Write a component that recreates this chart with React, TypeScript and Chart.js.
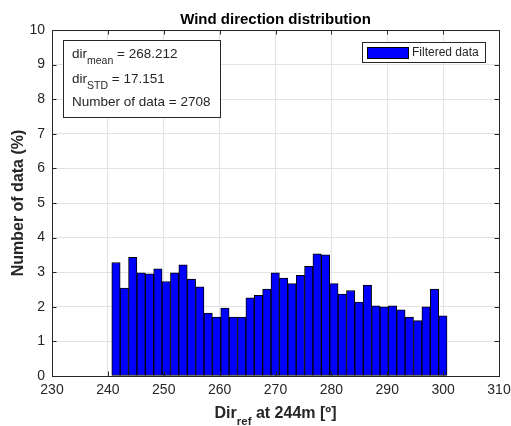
import React, { useEffect, useRef } from "react";
import { Chart, registerables } from "chart.js";

Chart.register(...registerables);

// Bin centres (deg) and percentage of data in each bin
const binCenters = [
  241.45, 242.95, 244.45, 245.95, 247.45, 248.95, 250.45, 251.95, 253.45, 254.95,
  256.45, 257.95, 259.45, 260.95, 262.45, 263.95, 265.45, 266.95, 268.45, 269.95,
  271.45, 272.95, 274.45, 275.95, 277.45, 278.95, 280.45, 281.95, 283.45, 284.95,
  286.45, 287.95, 289.45, 290.95, 292.45, 293.95, 295.45, 296.95, 298.45, 299.95,
];
const percentages = [
  3.28, 2.54, 3.43, 2.98, 2.95, 3.10, 2.73, 2.98, 3.21, 2.80,
  2.58, 1.82, 1.70, 1.96, 1.70, 1.70, 2.26, 2.33, 2.51, 2.98,
  2.83, 2.67, 2.91, 3.17, 3.53, 3.50, 2.67, 2.37, 2.47, 2.14,
  2.63, 2.03, 2.00, 2.03, 1.91, 1.70, 1.60, 2.00, 2.51, 1.74,
];
const xTicks = [230, 240, 250, 260, 270, 280, 290, 300, 310];
const yTicks = [0, 1, 2, 3, 4, 5, 6, 7, 8, 9, 10];

const titleText = "Wind direction distribution";
const legendLabel = "Filtered data";
const statLines = [
  [{ t: "dir" }, { t: "mean", sub: true }, { t: " = 268.212" }],
  [{ t: "dir" }, { t: "STD", sub: true }, { t: " = 17.151" }],
  [{ t: "Number of data = 2708" }],
];
const xTitleParts = [{ t: "Dir" }, { t: "ref", sub: true }, { t: " at 244m [º]" }];
const yTitleText = "Number of data (%)";

const FONT = "'Liberation Sans', Arial, Helvetica, sans-serif";
const AX = "#262626";

type Part = { t: string; sub?: boolean };

function drawParts(
  ctx: CanvasRenderingContext2D,
  parts: Part[],
  x: number,
  y: number,
  size: number,
  subSize: number,
  weight: string,
  align: "left" | "center"
) {
  const mainFont = `${weight} ${size}px ${FONT}`;
  const subFont = `${weight} ${subSize}px ${FONT}`;
  let total = 0;
  const widths = parts.map((p) => {
    ctx.font = p.sub ? subFont : mainFont;
    const w = ctx.measureText(p.t).width;
    total += w;
    return w;
  });
  let cx = align === "center" ? x - total / 2 : x;
  ctx.textAlign = "left";
  ctx.textBaseline = "alphabetic";
  parts.forEach((p, i) => {
    ctx.font = p.sub ? subFont : mainFont;
    ctx.fillText(p.t, cx, p.sub ? y + size * 0.45 : y);
    cx += widths[i];
  });
}

const decorPlugin = {
  id: "decor",
  afterDatasetsDraw(chart: any) {
    const ctx = chart.ctx as CanvasRenderingContext2D;
    const { left, right, top, bottom } = chart.chartArea;
    const xs = chart.scales.x;
    const ys = chart.scales.y;
    ctx.save();
    ctx.strokeStyle = AX;
    ctx.lineWidth = 1;
    // inward ticks
    ctx.beginPath();
    xTicks.forEach((v) => {
      const px = Math.round(xs.getPixelForValue(v)) + 0.5;
      ctx.moveTo(px, bottom);
      ctx.lineTo(px, bottom - 4.5);
      ctx.moveTo(px, top);
      ctx.lineTo(px, top + 4.5);
    });
    yTicks.forEach((v) => {
      const py = Math.round(ys.getPixelForValue(v)) + 0.5;
      ctx.moveTo(left, py);
      ctx.lineTo(left + 4.5, py);
      ctx.moveTo(right, py);
      ctx.lineTo(right - 4.5, py);
    });
    ctx.stroke();
    // box
    ctx.strokeRect(Math.round(left) + 0.5, Math.round(top) + 0.5, Math.round(right - left), Math.round(bottom - top));
    ctx.restore();
  },
  afterDraw(chart: any) {
    const ctx = chart.ctx as CanvasRenderingContext2D;
    const { left, right, top, bottom } = chart.chartArea;
    const cx = (left + right) / 2;
    ctx.save();
    ctx.fillStyle = "#000000";
    // title
    ctx.font = `bold 15px ${FONT}`;
    ctx.textAlign = "center";
    ctx.textBaseline = "alphabetic";
    ctx.fillText(titleText, cx, 24);
    // x title
    ctx.fillStyle = AX;
    drawParts(ctx, xTitleParts, cx, 418, 16, 11.5, "bold", "center");
    // y title
    ctx.save();
    ctx.translate(19, (top + bottom) / 2);
    ctx.rotate(-Math.PI / 2);
    ctx.font = `bold 16px ${FONT}`;
    ctx.textAlign = "center";
    ctx.textBaseline = "middle";
    ctx.fillText(yTitleText, 0, 0);
    ctx.restore();

    // stats text box
    ctx.fillStyle = "#ffffff";
    ctx.fillRect(63.5, 40.5, 157, 77);
    ctx.strokeStyle = AX;
    ctx.lineWidth = 1;
    ctx.strokeRect(63.5, 40.5, 157, 77);
    ctx.fillStyle = AX;
    const baselines = [58, 83, 106];
    statLines.forEach((ln, i) => drawParts(ctx, ln, 72, baselines[i], 13.5, 10.5, "normal", "left"));

    // legend
    ctx.fillStyle = "#ffffff";
    ctx.fillRect(362.5, 42.5, 123, 20);
    ctx.strokeStyle = AX;
    ctx.strokeRect(362.5, 42.5, 123, 20);
    ctx.fillStyle = "#0000ff";
    ctx.fillRect(367.5, 47.5, 41, 11);
    ctx.strokeStyle = "#000000";
    ctx.strokeRect(367.5, 47.5, 41, 11);
    ctx.fillStyle = AX;
    ctx.font = `normal 12px ${FONT}`;
    ctx.textAlign = "left";
    ctx.textBaseline = "middle";
    ctx.fillText(legendLabel, 412, 53);
    ctx.restore();
  },
};

export default function App() {
  const ref = useRef<HTMLCanvasElement | null>(null);
  useEffect(() => {
    if (!ref.current) return;
    const chart = new Chart(ref.current, {
      type: "bar",
      data: {
        datasets: [
          {
            label: legendLabel,
            data: binCenters.map((x, i) => ({ x, y: percentages[i] })),
            backgroundColor: "#0000ff",
            borderColor: "#000000",
            borderWidth: 1,
            borderSkipped: false,
            barPercentage: 1,
            categoryPercentage: 1,
          },
        ],
      },
      options: {
        responsive: false,
        animation: false,
        events: [],
        layout: { padding: { left: 7, right: 12, top: 30, bottom: 0 } },
        plugins: { legend: { display: false }, title: { display: false }, tooltip: { enabled: false } },
        scales: {
          x: {
            type: "linear",
            min: 230,
            max: 310,
            offset: false,
            afterFit: (s: any) => {
              s.height = 50;
              s.paddingLeft = 0;
              s.paddingRight = 0;
            },
            afterBuildTicks: (s: any) => {
              s.ticks = xTicks.map((v) => ({ value: v }));
            },
            grid: { color: "#e3e3e3", drawTicks: false, offset: false },
            border: { display: false },
            ticks: {
              padding: 6,
              color: AX,
              font: { family: FONT, size: 14 },
              maxRotation: 0,
            },
          },
          y: {
            min: 0,
            max: 10,
            afterFit: (s: any) => {
              s.width = 45;
              s.paddingTop = 0;
              s.paddingBottom = 0;
            },
            afterBuildTicks: (s: any) => {
              s.ticks = yTicks.map((v) => ({ value: v }));
            },
            grid: { color: "#e3e3e3", drawTicks: false },
            border: { display: false },
            ticks: {
              padding: 7,
              color: AX,
              font: { family: FONT, size: 14 },
            },
          },
        },
      },
      plugins: [decorPlugin],
    });
    return () => chart.destroy();
  }, []);
  return (
    <div style={{ position: "fixed", left: 0, top: 0, width: 511, height: 426, background: "#ffffff" }}>
      <canvas ref={ref} width={511} height={426} style={{ display: "block", width: 511, height: 426 }} />
    </div>
  );
}
